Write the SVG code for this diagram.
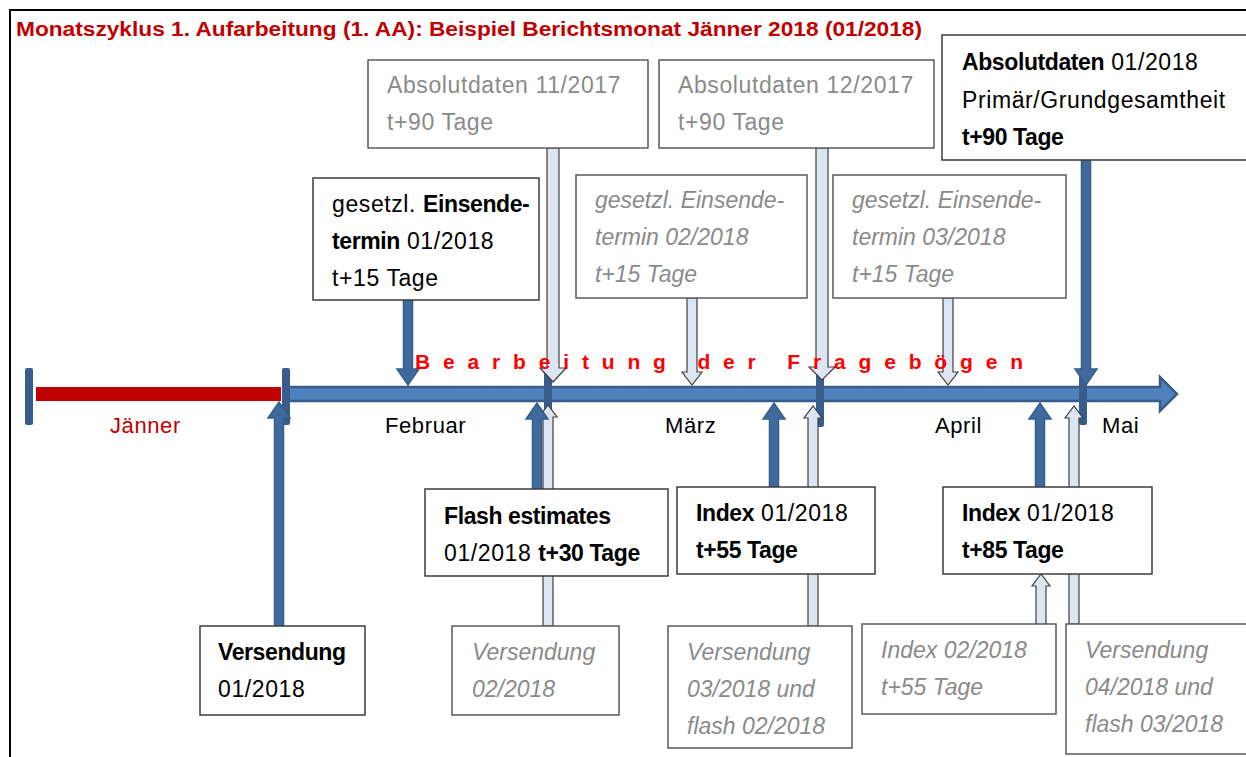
<svg xmlns="http://www.w3.org/2000/svg" width="1246" height="757" viewBox="0 0 1246 757">
<style>
text{font-family:"Liberation Sans",Arial,sans-serif;font-size:23px;letter-spacing:0.6px;fill:#000}
.b{font-weight:bold;letter-spacing:-0.4px}
.g{fill:#8a8a8a}
.i{font-style:italic;fill:#8a8a8a;letter-spacing:0}
.box{fill:#fff;stroke:#3c3c3c;stroke-width:1.5}
.gbox{fill:#fff;stroke:#5a5a5a;stroke-width:1.5}
.dark{fill:#3F6A9C;stroke:#385D8A;stroke-width:1.5}
.light{fill:#DCE6F2;stroke:#404040;stroke-width:1.2}
.tick{fill:#385D8A}
.month{font-size:22px}
</style>
<rect width="1246" height="757" fill="#fff"/>
<path d="M10,757 L10,10 L1246,10" fill="none" stroke="#000" stroke-width="2"/>
<text x="16" y="36" class="b" style="font-size:20px;letter-spacing:0;fill:#C00000" textLength="906" lengthAdjust="spacingAndGlyphs">Monatszyklus 1. Aufarbeitung (1. AA): Beispiel Berichtsmonat Jänner 2018 (01/2018)</text>

<g id="timeline">
<rect x="36" y="387" width="245" height="14" fill="#C00000"/>
<path d="M285,387 L1160,387 L1160,377 L1177,394 L1160,411 L1160,401 L285,401 Z" fill="#4F81BD" stroke="#385D8A" stroke-width="2.5"/>
<rect class="tick" x="25" y="368" width="8" height="57" rx="2"/>
<rect class="tick" x="282" y="368" width="8" height="57" rx="2"/>
<rect class="tick" x="544" y="368" width="8" height="57" rx="2"/>
<rect class="tick" x="816" y="370" width="8" height="57" rx="2"/>
<rect class="tick" x="1079" y="368" width="8" height="57" rx="2"/>
<text x="110" y="433" class="month" style="fill:#C00000">Jänner</text>
<text x="385" y="433" class="month">Februar</text>
<text x="665" y="433" class="month">März</text>
<text x="935" y="433" class="month">April</text>
<text x="1102" y="433" class="month">Mai</text>
</g>

<g id="connectors">
<path class="light" d="M547,148 L559,148 L559,368 L566,368 L553,382 L540,368 L547,368 Z"/>
<path class="light" d="M687,298 L697,298 L697,372 L702,372 L692,385 L682,372 L687,372 Z"/>
<path class="light" d="M816,148 L828,148 L828,367 L835,367 L822,380 L809,367 L816,367 Z"/>
<path class="light" d="M943,298 L953,298 L953,372 L958,372 L948,385 L938,372 L943,372 Z"/>
<path class="light" d="M543,626 L553,626 L553,417 L557,417 L548,405 L539,417 L543,417 Z"/>
<path class="light" d="M808,626 L818,626 L818,418 L822,418 L813,406 L804,418 L808,418 Z"/>
<path class="light" d="M1069,624 L1079,624 L1079,418 L1083,418 L1074,406 L1065,418 L1069,418 Z"/>
<path class="light" d="M1036,625 L1046,625 L1046,586 L1050,586 L1041,574 L1032,586 L1036,586 Z"/>
<path class="dark" d="M403.5,300 L412.5,300 L412.5,369 L419,369 L408,385 L397,369 L403.5,369 Z"/>
<path class="dark" d="M1081.5,160 L1090.5,160 L1090.5,369 L1097,369 L1086,385 L1075,369 L1081.5,369 Z"/>
<path class="dark" d="M274.5,626 L283.5,626 L283.5,418 L290,418 L279,402 L268,418 L274.5,418 Z"/>
<path class="dark" d="M532.5,489 L541.5,489 L541.5,419 L548,419 L537,403 L526,419 L532.5,419 Z"/>
<path class="dark" d="M769.5,487 L778.5,487 L778.5,419 L785,419 L774,403 L763,419 L769.5,419 Z"/>
<path class="dark" d="M1035.5,487 L1044.5,487 L1044.5,419 L1051,419 L1040,403 L1029,419 L1035.5,419 Z"/>
</g>
<text x="415" y="369" class="b" style="font-size:21px;letter-spacing:0;fill:#FF0000" textLength="608" lengthAdjust="spacing">Bearbeitung der Fragebögen</text>

<g id="abs1117">
<rect class="gbox" x="368" y="60" width="280" height="88"/>
<text x="387" y="93" class="g">Absolutdaten 11/2017</text>
<text x="387" y="130" class="g">t+90 Tage</text>
</g>
<g id="abs1217">
<rect class="gbox" x="659" y="60" width="275" height="88"/>
<text x="678" y="93" class="g">Absolutdaten 12/2017</text>
<text x="678" y="130" class="g">t+90 Tage</text>
</g>
<g id="abs0118">
<rect class="box" x="942" y="35" width="320" height="125"/>
<text x="962" y="70"><tspan class="b">Absolutdaten</tspan> 01/2018</text>
<text x="962" y="108">Primär/Grundgesamtheit</text>
<text x="962" y="145" class="b">t+90 Tage</text>
</g>
<g id="einsende0118">
<rect class="box" x="313" y="178" width="226" height="122"/>
<text x="332" y="212">gesetzl. <tspan class="b">Einsende-</tspan></text>
<text x="332" y="249"><tspan class="b">termin</tspan> 01/2018</text>
<text x="332" y="286">t+15 Tage</text>
</g>
<g id="einsende0218">
<rect class="gbox" x="576" y="175" width="231" height="123"/>
<text x="595" y="208" class="i">gesetzl. Einsende-</text>
<text x="595" y="245" class="i">termin 02/2018</text>
<text x="595" y="282" class="i">t+15 Tage</text>
</g>
<g id="einsende0318">
<rect class="gbox" x="833" y="175" width="233" height="123"/>
<text x="852" y="208" class="i">gesetzl. Einsende-</text>
<text x="852" y="245" class="i">termin 03/2018</text>
<text x="852" y="282" class="i">t+15 Tage</text>
</g>
<g id="flash">
<rect class="box" x="425" y="489" width="243" height="87"/>
<text x="444" y="524" class="b">Flash estimates</text>
<text x="444" y="561">01/2018 <tspan class="b">t+30 Tage</tspan></text>
</g>
<g id="index55">
<rect class="box" x="677" y="487" width="198" height="87"/>
<text x="696" y="521"><tspan class="b">Index</tspan> 01/2018</text>
<text x="696" y="558" class="b">t+55 Tage</text>
</g>
<g id="index85">
<rect class="box" x="943" y="487" width="209" height="87"/>
<text x="962" y="521"><tspan class="b">Index</tspan> 01/2018</text>
<text x="962" y="558" class="b">t+85 Tage</text>
</g>
<g id="vers0118">
<rect class="box" x="200" y="626" width="165" height="89"/>
<text x="218" y="660" class="b">Versendung</text>
<text x="218" y="697">01/2018</text>
</g>
<g id="vers0218">
<rect class="gbox" x="452" y="626" width="167" height="89"/>
<text x="472" y="660" class="i">Versendung</text>
<text x="472" y="697" class="i">02/2018</text>
</g>
<g id="vers0318">
<rect class="gbox" x="668" y="626" width="184" height="122"/>
<text x="687" y="660" class="i">Versendung</text>
<text x="687" y="697" class="i">03/2018 und</text>
<text x="687" y="734" class="i">flash 02/2018</text>
</g>
<g id="index0218">
<rect class="gbox" x="862" y="624" width="194" height="90"/>
<text x="881" y="658" class="i">Index 02/2018</text>
<text x="881" y="695" class="i">t+55 Tage</text>
</g>
<g id="vers0418">
<rect class="gbox" x="1066" y="624" width="200" height="130"/>
<text x="1085" y="658" class="i">Versendung</text>
<text x="1085" y="695" class="i">04/2018 und</text>
<text x="1085" y="732" class="i">flash 03/2018</text>
</g>
</svg>
